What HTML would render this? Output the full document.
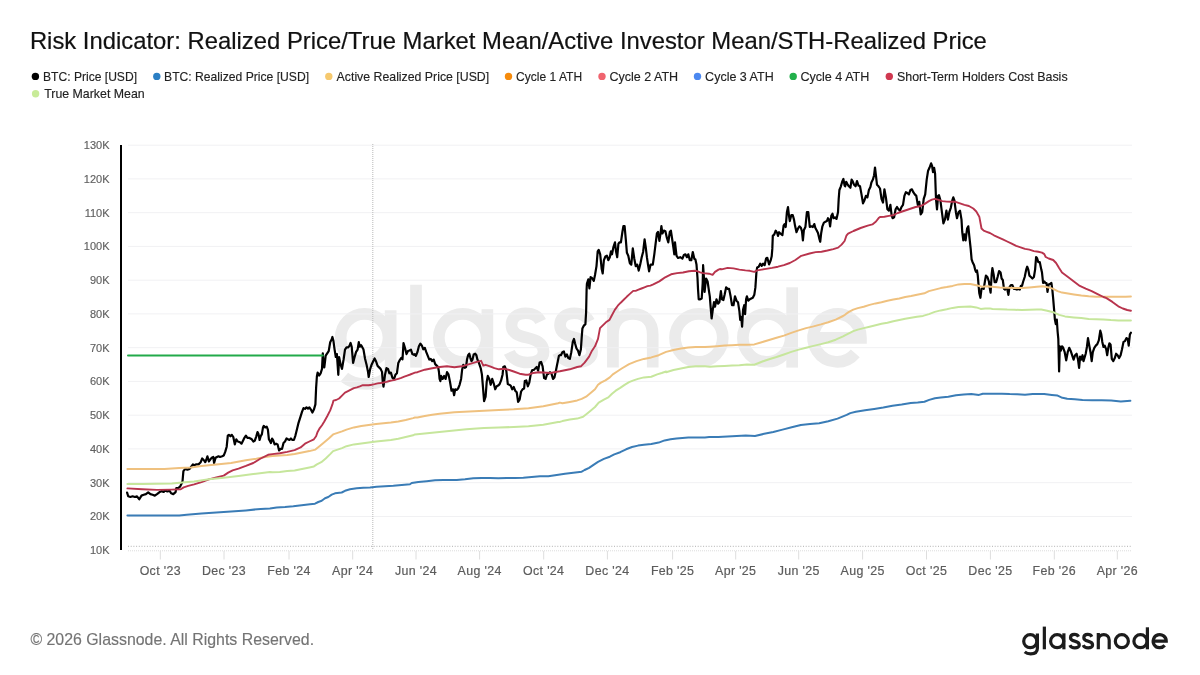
<!DOCTYPE html>
<html><head><meta charset="utf-8"><style>
html,body{margin:0;padding:0;background:#fff;}
body{width:1200px;height:675px;overflow:hidden;position:relative;font-family:"Liberation Sans",sans-serif;}
svg{position:absolute;left:0;top:0;will-change:transform;}
</style></head><body>
<svg width="1200" height="675" viewBox="0 0 1200 675" font-family="Liberation Sans, sans-serif">
<text x="29.9" y="48.6" font-size="24" fill="#111" stroke="#111" stroke-width="0.2" textLength="957" lengthAdjust="spacingAndGlyphs">Risk Indicator: Realized Price/True Market Mean/Active Investor Mean/STH-Realized Price</text>
<g font-size="13.1" fill="#222" stroke="#222" stroke-width="0.15"><circle cx="35.4" cy="76.4" r="3.7" fill="#000000" stroke="none"/><text x="43.0" y="81.0" textLength="94.0" lengthAdjust="spacingAndGlyphs">BTC: Price [USD]</text><circle cx="156.8" cy="76.4" r="3.7" fill="#2b7fc4" stroke="none"/><text x="164.1" y="81.0" textLength="145.0" lengthAdjust="spacingAndGlyphs">BTC: Realized Price [USD]</text><circle cx="328.8" cy="76.4" r="3.7" fill="#f6c96e" stroke="none"/><text x="336.6" y="81.0" textLength="152.6" lengthAdjust="spacingAndGlyphs">Active Realized Price [USD]</text><circle cx="508.5" cy="76.4" r="3.7" fill="#f68b0c" stroke="none"/><text x="516.1" y="81.0" textLength="66.0" lengthAdjust="spacingAndGlyphs">Cycle 1 ATH</text><circle cx="602.0" cy="76.4" r="3.7" fill="#f0646f" stroke="none"/><text x="609.4" y="81.0" textLength="68.7" lengthAdjust="spacingAndGlyphs">Cycle 2 ATH</text><circle cx="697.5" cy="76.4" r="3.7" fill="#4b88f0" stroke="none"/><text x="705.1" y="81.0" textLength="68.6" lengthAdjust="spacingAndGlyphs">Cycle 3 ATH</text><circle cx="793.2" cy="76.4" r="3.7" fill="#22b04b" stroke="none"/><text x="800.4" y="81.0" textLength="69.0" lengthAdjust="spacingAndGlyphs">Cycle 4 ATH</text><circle cx="889.3" cy="76.4" r="3.7" fill="#d03850" stroke="none"/><text x="897.0" y="81.0" textLength="170.6" lengthAdjust="spacingAndGlyphs">Short-Term Holders Cost Basis</text><circle cx="35.6" cy="93.8" r="3.7" fill="#c8eb98" stroke="none"/><text x="44.2" y="98.2" textLength="100.5" lengthAdjust="spacingAndGlyphs">True Market Mean</text></g>
<defs><g id="logo" fill="none" stroke-width="3.2" stroke-linecap="butt">
<circle cx="8.15" cy="-8.15" r="6.55"/>
<path d="M15.3,-15.7 V-1 C15.3,3 12.2,4.5 8.6,4.5 C6,4.5 4,3.8 2.6,2.6"/>
<path d="M22.25,-22.7 V0"/>
<circle cx="35.05" cy="-8.15" r="6.55"/>
<path d="M41.8,-16 V0"/>
<path id="s1" d="M56.4,-12.6 C55.6,-14.3 53.9,-14.9 52.3,-14.9 C50,-14.9 48.4,-13.6 48.4,-11.6 C48.4,-9.4 50.4,-8.7 52.6,-8.2 C55,-7.6 57.2,-6.8 57.2,-4.4 C57.2,-2.3 55.3,-1.4 52.8,-1.4 C50.5,-1.4 48.6,-2.4 47.8,-4.2"/>
<path d="M56.4,-12.6 C55.6,-14.3 53.9,-14.9 52.3,-14.9 C50,-14.9 48.4,-13.6 48.4,-11.6 C48.4,-9.4 50.4,-8.7 52.6,-8.2 C55,-7.6 57.2,-6.8 57.2,-4.4 C57.2,-2.3 55.3,-1.4 52.8,-1.4 C50.5,-1.4 48.6,-2.4 47.8,-4.2" transform="translate(13.3,0)"/>
<path d="M76.2,-16.3 V0 M76.2,-9 C76.2,-12.8 78.6,-14.7 81.65,-14.7 C84.7,-14.7 87.1,-12.8 87.1,-9 V0"/>
<circle cx="99.75" cy="-8.15" r="6.55"/>
<circle cx="118.35" cy="-8.15" r="6.55"/>
<path d="M125.3,-22.0 V0"/>
<path d="M131.05,-8.15 H144.15 A6.55,6.55 0 1 0 142.6,-3.9"/>
</g></defs>
<use href="#logo" stroke="#ebebeb" transform="translate(334.8,367.6) scale(3.65)"/>
<g stroke="#f1f1f3" stroke-width="1"><line x1="128" x2="1132" y1="145.2" y2="145.2" /><line x1="128" x2="1132" y1="178.9" y2="178.9" /><line x1="128" x2="1132" y1="212.7" y2="212.7" /><line x1="128" x2="1132" y1="246.4" y2="246.4" /><line x1="128" x2="1132" y1="280.2" y2="280.2" /><line x1="128" x2="1132" y1="313.9" y2="313.9" /><line x1="128" x2="1132" y1="347.7" y2="347.7" /><line x1="128" x2="1132" y1="381.4" y2="381.4" /><line x1="128" x2="1132" y1="415.2" y2="415.2" /><line x1="128" x2="1132" y1="448.9" y2="448.9" /><line x1="128" x2="1132" y1="482.7" y2="482.7" /><line x1="128" x2="1132" y1="516.5" y2="516.5" /></g>
<line x1="372.8" x2="372.8" y1="144" y2="549" stroke="#b8b8b8" stroke-width="1" stroke-dasharray="1,1"/>
<line x1="128" x2="1132" y1="546.3" y2="546.3" stroke="#b0b0b0" stroke-width="1" stroke-dasharray="1,1.7"/>
<line x1="128" x2="1132" y1="550.8" y2="550.8" stroke="#dcdcdc" stroke-width="1" stroke-dasharray="1,1"/>
<g stroke="#dedede" stroke-width="1"><line x1="160.3" x2="160.3" y1="551" y2="559.5" /><line x1="224.0" x2="224.0" y1="551" y2="559.5" /><line x1="289.0" x2="289.0" y1="551" y2="559.5" /><line x1="352.7" x2="352.7" y1="551" y2="559.5" /><line x1="416.0" x2="416.0" y1="551" y2="559.5" /><line x1="479.6" x2="479.6" y1="551" y2="559.5" /><line x1="543.7" x2="543.7" y1="551" y2="559.5" /><line x1="607.4" x2="607.4" y1="551" y2="559.5" /><line x1="672.6" x2="672.6" y1="551" y2="559.5" /><line x1="735.7" x2="735.7" y1="551" y2="559.5" /><line x1="798.7" x2="798.7" y1="551" y2="559.5" /><line x1="862.6" x2="862.6" y1="551" y2="559.5" /><line x1="926.5" x2="926.5" y1="551" y2="559.5" /><line x1="990.4" x2="990.4" y1="551" y2="559.5" /><line x1="1054.3" x2="1054.3" y1="551" y2="559.5" /><line x1="1117.3" x2="1117.3" y1="551" y2="559.5" /></g>
<g font-size="11" fill="#606060" stroke="#606060" stroke-width="0.15" text-anchor="end"><text x="109.5" y="149.1">130K</text><text x="109.5" y="182.8">120K</text><text x="109.5" y="216.6">110K</text><text x="109.5" y="250.3">100K</text><text x="109.5" y="284.1">90K</text><text x="109.5" y="317.8">80K</text><text x="109.5" y="351.6">70K</text><text x="109.5" y="385.3">60K</text><text x="109.5" y="419.1">50K</text><text x="109.5" y="452.8">40K</text><text x="109.5" y="486.6">30K</text><text x="109.5" y="520.4">20K</text><text x="109.5" y="554.1">10K</text></g>
<g font-size="12.4" fill="#5c5c5c" stroke="#5c5c5c" stroke-width="0.2" text-anchor="middle" letter-spacing="0.35"><text x="160.3" y="575.0">Oct '23</text><text x="224.0" y="575.0">Dec '23</text><text x="289.0" y="575.0">Feb '24</text><text x="352.7" y="575.0">Apr '24</text><text x="416.0" y="575.0">Jun '24</text><text x="479.6" y="575.0">Aug '24</text><text x="543.7" y="575.0">Oct '24</text><text x="607.4" y="575.0">Dec '24</text><text x="672.6" y="575.0">Feb '25</text><text x="735.7" y="575.0">Apr '25</text><text x="798.7" y="575.0">Jun '25</text><text x="862.6" y="575.0">Aug '25</text><text x="926.5" y="575.0">Oct '25</text><text x="990.4" y="575.0">Dec '25</text><text x="1054.3" y="575.0">Feb '26</text><text x="1117.3" y="575.0">Apr '26</text></g>
<path d="M127.1,492.6 L128.2,496.3 L130.4,497.0 L132.6,496.3 L134.8,497.0 L137.0,496.3 L139.3,499.3 L141.5,495.6 L143.7,494.8 L145.9,494.1 L148.2,492.3 L150.4,494.1 L152.6,494.8 L154.8,495.6 L157.0,494.1 L159.3,492.3 L161.5,491.1 L163.7,491.9 L165.2,490.4 L167.4,491.4 L169.6,490.8 L171.1,493.3 L173.3,494.1 L175.6,492.1 L176.3,488.1 L178.5,487.9 L180.0,486.7 L181.5,483.7 L182.5,481.5 L183.4,471.1 L185.2,468.9 L187.4,469.6 L189.6,468.9 L191.8,465.9 L192.9,464.4 L194.1,465.2 L196.3,464.4 L198.5,464.4 L200.7,462.2 L202.2,458.5 L203.7,460.0 L205.2,462.2 L206.2,460.0 L207.4,456.3 L208.9,461.5 L210.4,459.3 L211.8,457.8 L213.3,457.0 L214.1,463.0 L215.6,457.8 L217.0,457.0 L218.5,456.3 L220.0,457.0 L222.2,456.3 L223.7,455.6 L225.2,451.9 L226.7,446.7 L227.8,435.6 L228.9,434.8 L230.4,436.3 L231.8,434.8 L233.3,437.0 L234.8,444.4 L236.3,439.3 L237.8,441.5 L240.0,442.2 L241.5,443.7 L243.0,440.7 L244.4,437.8 L245.9,435.6 L247.4,437.8 L248.9,437.8 L250.4,438.5 L251.8,439.3 L253.3,441.5 L254.8,440.7 L256.3,436.3 L257.5,432.1 L258.5,434.1 L259.6,440.0 L260.7,436.3 L261.9,434.1 L263.0,427.4 L263.7,425.9 L265.2,427.4 L266.7,426.7 L267.9,429.6 L268.9,439.3 L269.4,440.0 L270.9,443.0 L272.1,438.5 L273.1,440.0 L274.6,444.4 L276.1,443.7 L277.6,444.4 L279.1,450.4 L280.6,448.9 L282.0,448.9 L283.5,443.0 L285.0,441.5 L286.5,438.5 L288.0,439.3 L289.4,440.0 L290.9,438.5 L292.4,440.0 L293.9,440.0 L295.4,435.6 L296.9,429.6 L298.3,423.7 L300.6,416.3 L302.0,411.9 L303.5,408.1 L305.0,408.9 L306.5,407.4 L308.0,408.6 L309.4,407.4 L310.9,409.6 L312.4,412.6 L313.9,409.6 L315.4,404.4 L316.1,388.1 L316.9,376.3 L317.6,372.6 L319.1,375.6 L320.6,373.3 L322.0,368.9 L322.8,353.3 L323.5,364.4 L324.3,367.4 L325.0,361.5 L325.7,355.6 L327.2,353.3 L328.7,351.1 L330.2,342.2 L331.7,339.3 L332.4,337.0 L333.4,340.7 L334.6,349.6 L335.8,357.0 L336.9,354.1 L337.6,364.4 L338.3,374.8 L339.1,357.0 L340.6,364.4 L342.0,368.9 L343.5,360.0 L345.0,349.6 L346.5,347.4 L348.0,347.4 L349.4,345.9 L350.6,343.0 L351.7,346.7 L353.1,363.0 L354.6,357.0 L356.1,351.9 L357.6,349.6 L358.8,342.2 L359.8,346.7 L361.0,345.2 L362.0,346.7 L363.5,349.6 L365.0,358.5 L366.5,364.4 L368.0,371.9 L368.7,377.0 L370.2,368.9 L371.7,364.4 L373.1,361.5 L374.6,358.5 L376.1,361.5 L377.6,365.9 L379.1,367.4 L380.6,368.9 L382.0,371.9 L382.8,382.2 L383.5,386.7 L385.0,374.8 L386.5,368.1 L388.0,368.9 L389.4,373.3 L390.9,372.6 L392.4,377.8 L393.9,379.3 L395.4,374.8 L396.9,373.3 L398.3,363.0 L399.8,360.0 L401.3,357.8 L402.5,359.3 L403.5,343.0 L405.0,348.1 L406.5,354.1 L408.0,351.1 L409.4,350.4 L410.9,349.6 L412.4,354.1 L413.9,354.8 L414.9,354.1 L415.9,355.9 L417.4,352.2 L418.9,346.3 L420.4,343.6 L421.9,345.6 L423.3,349.3 L424.8,347.8 L426.3,352.2 L427.8,355.9 L429.3,359.6 L430.7,358.9 L432.2,361.1 L433.7,359.6 L435.2,364.1 L436.7,365.6 L438.1,367.0 L438.9,371.5 L439.6,378.9 L440.4,381.1 L441.1,375.9 L442.6,378.9 L444.1,375.9 L445.6,378.9 L447.0,372.2 L448.5,374.4 L450.0,381.9 L451.5,390.7 L453.0,389.3 L454.1,395.2 L455.2,389.3 L456.7,390.0 L458.1,388.5 L459.6,384.8 L461.1,378.9 L462.1,370.0 L463.3,364.8 L464.8,367.8 L466.0,367.0 L467.0,359.6 L468.1,355.2 L469.3,353.7 L470.4,358.1 L471.5,361.1 L472.5,359.6 L473.7,354.4 L475.2,353.7 L476.4,355.2 L477.4,359.6 L478.4,361.1 L479.6,364.8 L480.8,368.5 L481.9,374.4 L482.9,386.3 L484.1,401.1 L485.6,396.7 L486.7,381.9 L487.8,375.9 L489.3,378.9 L490.7,384.8 L492.2,378.9 L493.7,383.3 L495.2,389.3 L496.7,386.3 L498.1,385.6 L499.6,384.1 L501.1,380.4 L502.6,374.4 L503.3,367.0 L504.8,366.3 L506.3,370.7 L507.8,384.1 L509.3,384.8 L510.7,385.6 L512.2,389.3 L513.7,387.0 L515.2,390.7 L516.7,392.2 L518.1,401.9 L519.6,399.6 L521.1,391.5 L522.6,389.3 L524.1,388.5 L524.8,381.1 L526.3,380.4 L527.8,386.3 L529.3,382.6 L530.7,374.4 L532.2,370.0 L533.7,370.0 L535.2,368.5 L536.7,367.0 L538.1,370.7 L539.6,362.6 L541.1,361.9 L542.6,366.3 L544.1,378.1 L545.6,378.9 L547.0,374.4 L548.5,373.7 L550.0,372.2 L551.5,373.7 L553.0,378.9 L554.4,377.4 L555.9,370.7 L557.4,363.3 L558.9,355.9 L559.9,355.2 L560.9,355.2 L562.4,352.2 L563.9,351.5 L565.4,356.7 L566.9,354.4 L568.3,358.1 L569.8,358.9 L571.3,352.2 L572.8,341.9 L574.0,338.9 L575.0,343.3 L576.5,348.5 L578.0,350.7 L579.4,355.2 L580.9,349.3 L581.7,337.4 L582.4,328.5 L583.9,325.6 L585.4,324.1 L586.1,312.2 L586.6,289.8 L586.9,283.9 L588.3,279.4 L589.4,288.3 L590.6,277.2 L592.0,278.0 L593.8,280.9 L595.0,275.0 L596.5,266.1 L597.7,251.3 L598.7,249.8 L600.2,254.3 L601.7,269.1 L602.7,273.5 L603.9,260.2 L605.4,256.5 L606.9,255.7 L608.3,260.2 L609.8,257.2 L611.0,251.3 L612.0,254.3 L613.5,246.8 L615.0,242.4 L616.0,251.3 L617.2,257.2 L618.4,243.9 L619.4,242.4 L620.9,242.4 L622.4,232.0 L623.4,226.1 L624.6,226.1 L625.8,239.4 L626.9,252.8 L628.3,255.7 L629.8,263.1 L631.3,264.6 L632.8,248.3 L634.3,258.7 L635.7,266.1 L637.2,264.6 L638.7,270.6 L640.2,264.6 L641.7,257.2 L643.1,252.0 L644.6,239.4 L645.7,246.8 L646.9,257.2 L648.0,264.6 L649.1,271.3 L650.6,264.6 L652.8,264.6 L654.3,254.3 L655.4,245.4 L656.9,233.5 L658.0,232.0 L659.4,240.9 L660.5,233.5 L661.4,226.1 L662.4,233.5 L663.9,230.6 L665.4,231.3 L666.9,238.0 L668.3,242.4 L669.8,232.0 L670.9,230.6 L672.0,238.0 L673.5,248.3 L674.3,254.3 L675.0,242.4 L676.5,255.7 L678.0,258.0 L680.2,257.2 L682.4,258.7 L683.9,255.0 L685.4,254.3 L686.9,257.2 L688.3,254.3 L689.8,260.2 L691.3,260.2 L692.8,252.0 L694.3,258.7 L695.4,259.4 L696.5,264.6 L697.5,278.0 L698.0,288.9 L698.7,299.3 L700.2,299.3 L701.7,298.5 L702.7,283.0 L703.1,265.2 L703.9,277.0 L704.6,291.9 L705.4,284.4 L706.1,278.5 L707.6,281.5 L709.1,291.9 L709.8,296.3 L710.6,306.7 L711.6,318.5 L712.8,309.6 L714.0,302.2 L715.0,306.7 L716.5,299.3 L718.0,303.7 L719.4,302.2 L720.9,291.1 L722.0,299.3 L723.4,300.0 L724.6,294.8 L726.1,287.4 L727.6,288.9 L729.1,288.9 L730.6,296.3 L732.0,305.2 L733.5,305.2 L735.0,296.3 L736.5,300.7 L738.0,302.2 L739.4,311.1 L740.2,320.0 L741.2,317.0 L742.1,326.7 L743.1,309.6 L744.2,305.2 L745.1,314.1 L746.1,299.3 L746.9,296.3 L748.3,300.7 L749.8,299.3 L751.3,298.5 L752.8,297.8 L754.3,294.8 L755.4,287.4 L756.5,271.1 L757.2,267.4 L758.7,266.7 L760.2,263.7 L761.7,265.9 L763.1,263.7 L764.6,265.2 L766.1,258.5 L767.3,257.8 L768.3,261.5 L769.1,264.4 L770.6,260.7 L771.7,256.3 L772.3,248.9 L772.8,235.9 L774.3,234.4 L775.7,230.7 L777.2,233.0 L778.0,235.9 L779.1,232.2 L780.6,233.7 L782.4,235.2 L783.6,225.6 L784.6,224.1 L785.7,227.0 L786.9,212.2 L788.0,207.0 L789.1,216.7 L789.8,221.1 L791.3,215.2 L792.8,215.2 L794.0,219.6 L795.0,225.6 L796.5,232.2 L798.0,228.5 L799.4,226.3 L800.9,227.8 L802.0,231.5 L802.9,240.4 L803.9,230.0 L805.4,227.0 L806.9,212.2 L808.3,212.2 L809.8,227.0 L811.3,226.3 L812.8,227.0 L814.3,224.1 L815.3,227.8 L816.5,230.0 L818.0,233.0 L819.4,238.9 L820.2,241.8 L821.2,233.0 L822.4,226.3 L823.9,222.6 L825.4,221.8 L826.9,221.1 L828.0,218.2 L829.1,219.6 L830.1,226.3 L831.3,215.9 L832.5,213.7 L833.5,218.2 L835.0,217.4 L836.5,218.9 L838.0,212.2 L838.7,198.9 L839.4,190.0 L840.9,186.3 L842.4,181.1 L843.4,178.9 L844.6,185.6 L845.2,186.3 L846.2,181.8 L847.4,184.1 L848.9,186.3 L850.4,187.8 L851.6,179.6 L852.6,181.1 L854.1,184.8 L855.6,186.3 L857.0,181.1 L858.5,185.6 L860.0,186.3 L861.5,194.4 L863.0,203.3 L864.4,200.4 L865.9,195.9 L867.4,197.4 L868.9,190.0 L870.4,187.0 L871.4,182.6 L872.9,179.6 L874.1,175.2 L875.0,167.5 L875.9,175.2 L877.0,184.8 L878.5,186.3 L880.0,188.5 L881.5,198.9 L883.0,202.6 L884.4,189.3 L885.9,197.4 L887.4,209.3 L888.9,210.7 L890.4,204.8 L891.6,215.2 L892.6,218.2 L894.1,217.4 L895.6,209.3 L897.0,207.0 L898.5,209.3 L900.0,210.7 L901.5,207.0 L903.0,204.8 L904.4,195.9 L905.9,192.2 L907.4,193.0 L908.9,194.4 L910.4,190.0 L911.9,189.3 L913.3,192.2 L914.8,194.4 L916.3,195.9 L917.8,204.8 L919.3,201.8 L920.7,214.4 L922.2,212.2 L923.7,198.9 L925.2,194.4 L926.7,179.6 L928.1,170.7 L929.6,167.5 L931.1,163.3 L932.1,166.0 L933.0,172.2 L934.1,167.8 L935.1,173.7 L936.0,198.9 L937.0,209.3 L938.1,195.9 L939.0,195.2 L940.4,200.4 L941.9,212.2 L943.4,223.3 L944.9,219.6 L946.4,210.7 L947.9,219.6 L949.3,212.2 L950.8,207.8 L952.3,200.4 L953.3,197.4 L954.4,200.4 L955.9,212.2 L957.0,218.2 L958.5,212.2 L960.0,210.7 L961.5,219.6 L962.2,231.5 L963.3,240.4 L964.4,234.4 L965.6,240.4 L967.1,228.5 L968.3,226.3 L969.6,238.9 L970.7,248.9 L971.6,259.3 L972.6,262.2 L974.1,265.2 L975.1,269.6 L976.0,271.9 L977.0,270.4 L977.8,275.6 L978.5,284.4 L979.3,293.3 L980.4,297.8 L981.5,288.9 L982.5,288.1 L983.7,288.9 L984.9,281.5 L985.9,275.6 L987.4,277.0 L988.9,281.5 L989.9,288.9 L990.6,292.6 L991.7,274.1 L992.4,268.1 L993.6,274.1 L994.6,282.2 L996.1,282.2 L997.6,277.0 L999.1,271.1 L1000.6,272.6 L1001.6,278.5 L1002.8,280.0 L1004.0,288.9 L1005.0,289.6 L1005.7,288.1 L1007.2,288.9 L1008.4,294.8 L1009.4,287.4 L1010.9,285.2 L1012.4,285.2 L1013.9,288.9 L1015.4,288.9 L1016.9,289.6 L1018.3,288.9 L1019.8,289.6 L1020.9,285.9 L1022.0,285.9 L1023.2,281.5 L1024.7,277.0 L1026.2,269.6 L1027.2,266.7 L1028.3,269.6 L1029.4,275.6 L1030.9,277.0 L1032.4,278.5 L1033.9,277.0 L1035.1,269.6 L1036.1,257.0 L1037.2,258.5 L1038.3,262.2 L1039.8,262.2 L1041.3,269.6 L1042.0,272.6 L1043.1,283.0 L1044.3,281.5 L1045.4,283.0 L1046.5,283.0 L1047.5,291.9 L1048.7,284.4 L1050.2,283.7 L1051.4,283.0 L1052.4,290.4 L1053.2,298.9 L1054.3,312.2 L1054.9,319.6 L1055.8,324.1 L1056.8,319.6 L1057.6,331.5 L1058.3,338.9 L1059.1,371.5 L1059.8,346.3 L1060.8,350.7 L1062.0,346.3 L1063.2,347.8 L1064.7,352.2 L1066.2,360.4 L1067.7,352.2 L1069.2,347.8 L1070.6,350.7 L1072.1,355.2 L1073.6,359.6 L1075.1,355.2 L1076.6,353.7 L1078.0,359.6 L1079.1,367.8 L1080.1,356.7 L1081.3,359.6 L1082.5,355.2 L1083.5,361.1 L1084.6,357.4 L1085.7,353.7 L1086.9,347.0 L1088.0,338.1 L1089.4,346.3 L1090.5,352.2 L1091.7,361.1 L1092.8,352.2 L1094.3,347.8 L1095.8,345.6 L1097.3,344.1 L1098.8,340.4 L1100.3,330.7 L1101.3,334.4 L1102.3,341.9 L1103.5,347.0 L1104.7,345.6 L1106.2,349.3 L1107.2,355.2 L1108.3,347.8 L1109.4,343.3 L1110.6,344.8 L1111.8,358.9 L1113.3,361.1 L1114.8,358.1 L1116.1,353.7 L1117.6,355.2 L1119.1,358.1 L1120.6,355.2 L1122.0,349.3 L1123.5,341.9 L1125.0,341.1 L1126.5,338.1 L1127.7,338.9 L1128.7,345.6 L1129.9,334.4 L1130.9,332.7" stroke="#000000" stroke-width="2.2" fill="none" stroke-linejoin="round" stroke-linecap="round"/><path d="M127.4,515.6 L149.6,515.6 L179.3,515.6 L186.7,514.8 L201.5,513.6 L216.3,512.6 L231.1,511.6 L245.9,510.4 L260.7,508.9 L269.9,508.6 L276.7,507.5 L285.0,507.0 L293.3,506.3 L301.7,505.3 L310.0,504.2 L315.0,503.7 L318.3,502.0 L321.7,500.8 L325.0,498.3 L328.3,497.0 L331.7,494.7 L335.0,493.3 L341.7,492.5 L345.0,490.8 L350.0,489.2 L356.7,488.3 L363.3,487.8 L370.0,487.5 L376.7,486.7 L385.0,486.2 L393.3,485.8 L401.7,485.0 L410.0,484.2 L411.7,483.0 L418.3,482.0 L426.7,481.2 L435.0,480.3 L443.3,480.0 L448.3,480.0 L456.7,480.0 L465.0,479.3 L473.3,478.3 L481.7,478.0 L490.0,478.0 L498.3,478.3 L506.7,478.0 L515.0,478.0 L523.3,477.8 L531.7,477.0 L540.0,476.3 L548.3,476.3 L556.7,475.0 L565.0,473.7 L573.3,472.7 L581.7,471.7 L584.6,470.0 L589.1,467.8 L593.5,464.8 L598.0,461.9 L603.9,458.9 L609.8,456.7 L614.3,454.4 L620.2,452.2 L626.1,449.3 L632.0,447.0 L638.0,445.6 L643.9,444.8 L651.3,444.1 L658.7,442.6 L664.6,440.4 L670.6,439.3 L676.5,438.4 L682.4,437.9 L688.3,437.6 L695.7,437.4 L704.9,437.4 L709.2,437.1 L718.3,436.9 L727.5,436.4 L736.7,436.0 L745.8,435.6 L755.0,436.0 L764.2,433.8 L773.3,432.0 L782.5,429.6 L791.7,427.2 L800.8,425.0 L810.0,424.1 L819.2,423.2 L828.3,421.3 L837.5,418.6 L846.7,414.9 L850.3,413.1 L855.8,411.8 L865.0,410.3 L874.2,408.9 L883.3,407.6 L892.5,405.8 L901.7,404.5 L910.8,403.0 L917.7,402.6 L924.4,401.8 L929.2,399.9 L934.9,398.3 L940.7,397.6 L948.3,396.8 L956.0,395.3 L963.7,394.5 L971.3,394.1 L979.0,394.9 L982.8,393.7 L990.5,393.7 L1002.0,393.7 L1009.7,394.1 L1017.3,394.3 L1025.0,394.7 L1032.7,394.1 L1040.3,394.1 L1044.2,394.1 L1051.8,394.9 L1057.6,395.6 L1061.4,397.4 L1067.2,398.7 L1074.8,399.3 L1082.5,399.9 L1092.1,400.2 L1101.7,400.2 L1111.2,400.6 L1120.8,401.4 L1130.4,400.8" stroke="#3a7cb6" stroke-width="2.0" fill="none" stroke-linejoin="round" stroke-linecap="round"/><path d="M127.4,468.9 L149.6,468.9 L164.4,468.9 L179.3,468.1 L191.1,467.4 L201.5,465.9 L216.3,464.4 L231.1,463.0 L245.9,460.3 L256.3,458.8 L265.0,457.0 L272.4,456.0 L279.8,455.6 L287.2,455.1 L294.6,454.1 L302.0,452.6 L309.4,451.1 L315.4,449.6 L319.8,445.9 L324.3,442.2 L328.7,438.5 L333.1,434.4 L337.6,432.9 L342.0,431.4 L346.5,429.6 L353.9,427.4 L361.3,425.9 L368.7,424.9 L376.1,424.0 L383.5,423.3 L390.9,422.5 L398.3,421.5 L405.7,420.0 L413.1,418.1 L414.9,417.5 L417.4,417.4 L424.8,415.9 L432.2,414.7 L439.6,413.7 L454.4,412.2 L469.3,411.5 L484.1,410.7 L498.9,410.0 L513.7,409.3 L528.5,408.2 L543.3,406.3 L558.1,403.3 L559.9,402.6 L562.4,403.3 L569.8,401.9 L577.2,400.4 L581.7,398.9 L586.1,396.7 L590.6,393.0 L595.0,389.3 L598.0,384.8 L600.9,382.6 L605.4,380.4 L609.8,377.4 L612.8,374.4 L617.2,371.5 L621.7,368.5 L629.1,364.1 L636.5,361.1 L643.9,358.9 L651.3,357.4 L658.7,355.2 L666.1,351.9 L673.5,350.0 L680.9,348.5 L688.3,347.5 L695.7,347.0 L703.1,347.0 L704.9,347.0 L709.8,346.7 L717.2,346.2 L724.6,345.6 L732.0,345.2 L739.4,344.7 L746.9,344.7 L754.3,344.4 L761.7,342.2 L769.1,340.0 L776.5,337.8 L783.9,335.6 L791.3,332.9 L798.7,330.4 L806.1,328.1 L813.5,326.4 L820.9,324.4 L828.3,322.2 L835.7,319.6 L843.1,316.0 L844.9,314.8 L844.9,314.8 L848.9,311.9 L853.3,309.6 L857.8,308.1 L863.7,306.7 L869.6,304.9 L875.6,303.4 L881.5,302.2 L887.4,300.7 L893.3,299.6 L899.3,298.5 L905.2,297.0 L911.1,296.0 L917.0,294.8 L924.4,293.3 L928.9,291.1 L934.8,289.6 L940.7,288.1 L946.7,287.1 L952.6,285.9 L958.5,284.4 L964.4,284.1 L970.4,283.9 L976.3,285.2 L982.2,286.7 L988.1,286.2 L989.9,286.7 L992.4,286.7 L999.8,287.4 L1007.2,287.7 L1014.6,288.1 L1022.0,288.1 L1029.4,287.4 L1036.8,286.7 L1042.8,286.2 L1048.7,287.4 L1053.2,288.9 L1057.6,291.1 L1062.0,292.6 L1068.0,293.6 L1073.9,294.5 L1081.3,295.6 L1088.7,296.3 L1096.1,296.7 L1103.5,296.8 L1110.9,296.8 L1118.3,296.8 L1125.7,296.7 L1130.9,296.5" stroke="#efc17f" stroke-width="2.0" fill="none" stroke-linejoin="round" stroke-linecap="round"/><path d="M128.0,355.5 L322.8,355.5" stroke="#22aa4a" stroke-width="2.0" fill="none" stroke-linejoin="round" stroke-linecap="round"/><path d="M127.4,488.4 L142.2,489.3 L157.0,489.9 L171.8,489.6 L180.7,489.3 L183.7,487.4 L188.2,485.9 L194.1,484.4 L201.5,482.2 L208.9,479.3 L216.3,477.5 L223.7,475.6 L228.2,472.6 L232.6,470.4 L238.5,468.6 L245.9,465.9 L253.3,463.0 L260.7,458.5 L268.1,454.8 L272.4,454.1 L279.8,453.3 L287.2,451.9 L294.6,450.1 L300.6,447.4 L305.0,443.7 L309.4,441.5 L313.9,439.3 L316.1,436.3 L317.6,431.9 L319.8,428.1 L322.0,425.2 L324.3,421.5 L327.2,416.3 L330.2,410.4 L332.4,404.4 L333.4,400.7 L336.1,400.0 L339.1,398.5 L342.0,395.6 L345.0,392.6 L348.0,391.1 L350.9,389.6 L353.9,388.1 L356.9,387.4 L359.8,386.4 L362.8,385.2 L365.7,385.2 L368.7,385.2 L371.7,384.7 L374.6,384.1 L377.6,383.4 L380.6,383.0 L383.5,382.5 L386.5,381.9 L389.4,381.0 L392.4,380.4 L395.4,379.7 L398.3,378.8 L401.3,377.8 L404.3,376.7 L407.2,375.6 L410.2,374.5 L413.1,373.3 L414.9,372.6 L417.4,372.2 L424.8,369.7 L432.2,368.2 L439.6,367.0 L447.0,366.3 L454.4,367.3 L461.9,366.3 L469.3,364.1 L476.7,361.9 L481.1,360.8 L483.3,365.6 L485.6,364.8 L490.0,366.3 L494.4,368.2 L498.9,369.3 L504.8,368.8 L509.3,370.0 L513.7,371.5 L519.6,373.7 L525.6,374.7 L528.5,374.7 L533.0,373.0 L538.9,372.2 L543.3,372.5 L550.7,373.0 L558.1,371.5 L559.9,371.2 L562.4,370.7 L569.8,369.3 L577.2,367.0 L580.9,366.3 L584.6,362.6 L589.1,356.7 L592.0,350.7 L595.0,346.3 L598.0,338.9 L600.0,328.2 L605.9,322.3 L609.5,319.9 L611.9,315.2 L614.8,309.9 L617.8,305.7 L620.7,302.7 L623.7,299.8 L626.7,296.8 L629.6,294.1 L633.2,290.9 L635.6,290.9 L638.5,289.7 L641.5,288.5 L644.4,287.3 L647.4,286.1 L650.4,285.6 L653.3,284.4 L656.3,282.9 L659.3,281.4 L662.2,279.4 L665.2,277.3 L668.1,275.8 L671.1,274.3 L677.0,273.1 L683.0,272.5 L688.9,271.3 L694.8,270.7 L697.2,271.1 L700.1,272.3 L703.1,273.1 L709.0,273.7 L712.6,274.9 L715.0,271.9 L718.5,269.6 L719.9,269.0 L721.7,269.3 L727.6,267.9 L733.5,268.4 L739.4,269.6 L745.4,270.4 L749.8,270.8 L754.3,271.9 L757.2,270.4 L761.7,269.6 L766.1,268.9 L772.0,267.9 L778.0,266.7 L783.9,265.2 L789.8,263.0 L795.4,260.0 L801.3,255.8 L809.6,253.5 L815.6,252.1 L821.5,251.7 L827.4,250.5 L833.3,249.1 L838.1,247.6 L841.6,244.6 L844.6,241.0 L846.4,235.7 L848.1,233.6 L853.5,231.0 L860.6,228.0 L867.7,225.6 L872.4,224.4 L876.0,221.5 L879.0,217.7 L880.0,217.0 L884.4,216.7 L888.9,215.9 L893.3,215.2 L897.8,213.0 L902.2,211.5 L906.7,210.0 L911.1,208.5 L915.6,207.0 L920.0,206.3 L924.4,204.1 L928.9,201.1 L931.9,199.6 L934.8,198.9 L937.8,199.6 L942.2,201.1 L946.7,201.6 L951.1,201.8 L955.6,201.8 L960.0,203.3 L964.4,204.8 L968.9,206.0 L973.3,208.5 L976.3,211.5 L979.3,216.7 L981.5,228.5 L983.7,230.7 L986.7,231.8 L989.9,233.0 L993.9,235.3 L998.3,237.3 L1002.8,239.3 L1007.2,241.5 L1011.7,243.7 L1016.1,245.9 L1020.6,247.4 L1025.0,248.9 L1029.4,249.6 L1033.9,251.1 L1038.3,251.8 L1042.0,252.6 L1044.3,254.1 L1045.7,257.0 L1048.7,258.5 L1053.2,260.0 L1056.1,263.0 L1059.1,268.1 L1062.0,272.6 L1068.0,277.0 L1073.9,281.5 L1079.8,285.9 L1085.7,288.6 L1091.7,291.1 L1097.6,294.1 L1103.5,297.0 L1106.5,298.1 L1112.4,301.9 L1118.3,306.3 L1122.8,308.5 L1127.2,310.0 L1130.9,310.7" stroke="#b8344d" stroke-width="1.9" fill="none" stroke-linejoin="round" stroke-linecap="round"/><path d="M127.4,484.0 L142.2,484.0 L157.0,483.7 L171.8,483.4 L182.2,482.5 L194.1,481.5 L208.9,479.3 L223.7,477.8 L238.5,476.0 L253.3,474.1 L269.9,471.9 L272.4,472.3 L279.8,471.9 L287.2,471.1 L294.6,470.4 L302.0,468.9 L309.4,467.4 L313.9,466.4 L316.9,464.4 L321.3,462.2 L325.7,458.5 L330.2,454.1 L333.1,451.1 L337.6,449.6 L342.0,448.1 L346.5,446.2 L353.9,444.4 L361.3,443.4 L368.7,442.5 L376.1,441.5 L383.5,440.7 L390.9,440.0 L398.3,438.8 L405.7,437.0 L413.1,435.3 L414.9,434.4 L466.3,429.3 L476.7,428.5 L484.1,428.1 L498.9,427.5 L513.7,427.0 L528.5,426.3 L543.3,424.8 L558.1,422.1 L559.9,421.9 L562.4,421.1 L569.8,419.6 L577.2,418.6 L583.1,416.7 L586.9,413.7 L590.6,410.7 L595.0,407.0 L598.7,402.6 L603.9,399.6 L608.3,397.4 L612.0,393.7 L615.7,390.7 L620.2,387.8 L624.6,384.8 L629.1,382.1 L633.5,380.4 L638.0,378.9 L643.9,377.4 L651.3,376.7 L657.2,374.4 L661.7,373.0 L666.1,371.5 L666.1,372.2 L673.5,370.0 L680.9,368.5 L688.3,367.0 L695.7,366.3 L703.1,366.3 L704.9,366.3 L709.8,366.7 L717.2,366.2 L724.6,365.9 L732.0,365.5 L739.4,365.2 L746.9,364.4 L754.3,364.7 L758.7,363.0 L764.6,360.7 L769.1,359.3 L776.5,357.0 L783.9,354.5 L791.3,351.9 L798.7,349.6 L806.1,347.7 L813.5,345.9 L820.9,344.1 L828.3,342.2 L835.7,339.7 L843.1,336.3 L844.9,335.3 L848.9,333.3 L853.3,331.1 L857.8,329.6 L863.7,328.1 L869.6,326.7 L875.6,325.2 L881.5,323.7 L887.4,322.7 L893.3,321.2 L899.3,320.0 L905.2,318.8 L911.1,317.8 L917.0,316.7 L923.0,315.9 L928.9,314.1 L934.8,311.9 L940.7,310.4 L946.7,309.3 L952.6,307.9 L958.5,307.0 L964.4,306.7 L970.4,306.4 L976.3,307.4 L980.7,308.9 L985.2,308.4 L989.9,308.4 L992.4,309.0 L999.8,309.3 L1007.2,309.6 L1014.6,309.7 L1022.0,310.1 L1029.4,309.7 L1036.8,309.6 L1041.3,309.6 L1047.2,310.7 L1053.2,312.2 L1059.1,314.9 L1065.0,316.4 L1073.9,317.4 L1081.3,318.1 L1088.7,318.9 L1096.1,319.3 L1103.5,319.6 L1110.9,320.1 L1118.3,320.4 L1125.7,320.4 L1130.9,320.4" stroke="#c6e69c" stroke-width="2.0" fill="none" stroke-linejoin="round" stroke-linecap="round"/>
<line x1="121" x2="121" y1="145" y2="550" stroke="#000" stroke-width="2"/>
<text x="30.4" y="644.8" font-size="15.7" fill="#747474" stroke="#747474" stroke-width="0.15" textLength="283.7" lengthAdjust="spacingAndGlyphs">© 2026 Glassnode. All Rights Reserved.</text>
<use href="#logo" stroke="#1c1c1c" transform="translate(1022.1,649.3)"/>
</svg>
</body></html>
